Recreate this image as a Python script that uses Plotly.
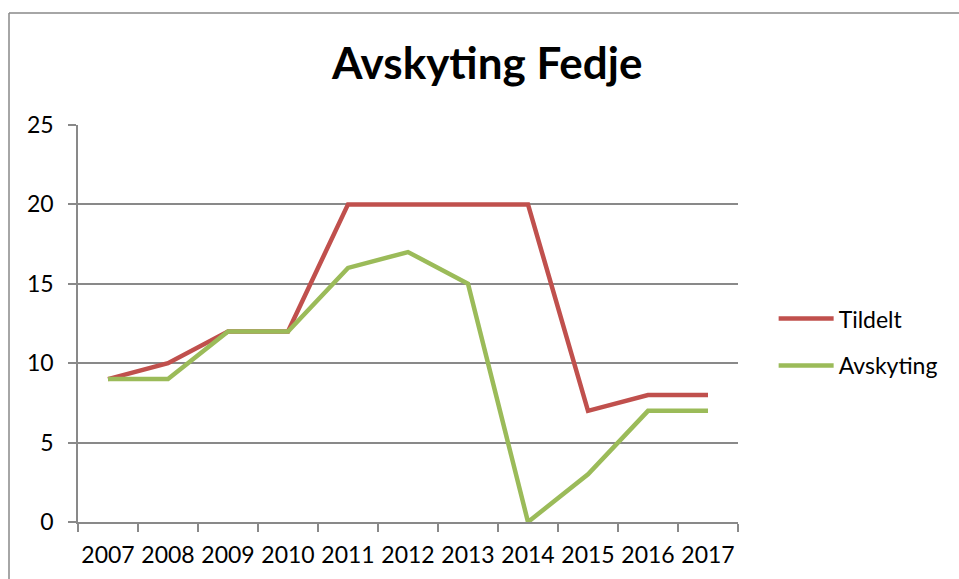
import plotly.graph_objects as go

years = ["2007", "2008", "2009", "2010", "2011", "2012", "2013", "2014", "2015", "2016", "2017"]
tildelt = [9, 10, 12, 12, 20, 20, 20, 20, 7, 8, 8]
avskyting = [9, 9, 12, 12, 16, 17, 15, 0, 3, 7, 7]
y_ticks = [0, 5, 10, 15, 20, 25]

FONT = "Lato"
GRID = "#898989"

fig = go.Figure()
fig.add_trace(go.Scatter(x=years, y=tildelt, mode="lines", name="Tildelt",
                         legendgroup="a",
                         line=dict(color="#C0504D", width=4.5)))
fig.add_trace(go.Scatter(x=years, y=avskyting, mode="lines", name="Avskyting",
                         legendgroup="b",
                         line=dict(color="#9BBB59", width=4.5)))

# chart-frame (only its top and left edges fall inside the picture)
fx0, fx1 = (9 - 78) / 660, (1000 - 78) / 660
fy0, fy1 = (522 - 600) / 397, (522 - 13) / 397
frame = dict(color="#898989", width=1.5)

fig.update_layout(
    width=959, height=579,
    margin=dict(l=78, r=221, t=125, b=57, autoexpand=False),
    paper_bgcolor="white", plot_bgcolor="white",
    font=dict(family=FONT, size=23, color="black"),
    title=dict(text="<b>Avskyting Fedje</b>", font=dict(family=FONT, size=44, color="black"),
               xref="paper", x=0.62, xanchor="center",
               yref="container", y=1 - 64 / 579, yanchor="middle"),
    showlegend=True,
    legend=dict(x=1.054, xanchor="left", y=0.453, yanchor="middle",
                traceorder="grouped", tracegroupgap=14, itemwidth=55,
                font=dict(family=FONT, size=23, color="black"),
                bgcolor="rgba(0,0,0,0)"),
    xaxis=dict(type="category", tickson="boundaries", ticks="outside", ticklen=8,
               tickcolor=GRID, tickwidth=1.5, showgrid=False, tickangle=0,
               automargin=False, ticklabelstandoff=12,
               showline=True, linecolor=GRID, linewidth=1.5,
               range=[-0.5, 10.5], fixedrange=True),
    yaxis=dict(range=[0, 25], tickvals=y_ticks, ticks="outside", ticklen=8,
               tickcolor=GRID, tickwidth=1.5, showgrid=True, gridcolor=GRID, gridwidth=1.5,
               showline=True, linecolor=GRID, linewidth=1.5, zeroline=False,
               automargin=False, ticklabelstandoff=10),
    shapes=[
        dict(type="line", xref="paper", yref="paper", x0=fx0, x1=fx1, y0=fy1, y1=fy1,
             line=frame, layer="below"),
        dict(type="line", xref="paper", yref="paper", x0=fx0, x1=fx0, y0=fy0, y1=fy1,
             line=frame, layer="below"),
    ],
)

fig.write_html(
    "out.html",
    config={"displayModeBar": False},
    post_script="document.body.style.margin='0';document.body.style.overflow='hidden';",
)
